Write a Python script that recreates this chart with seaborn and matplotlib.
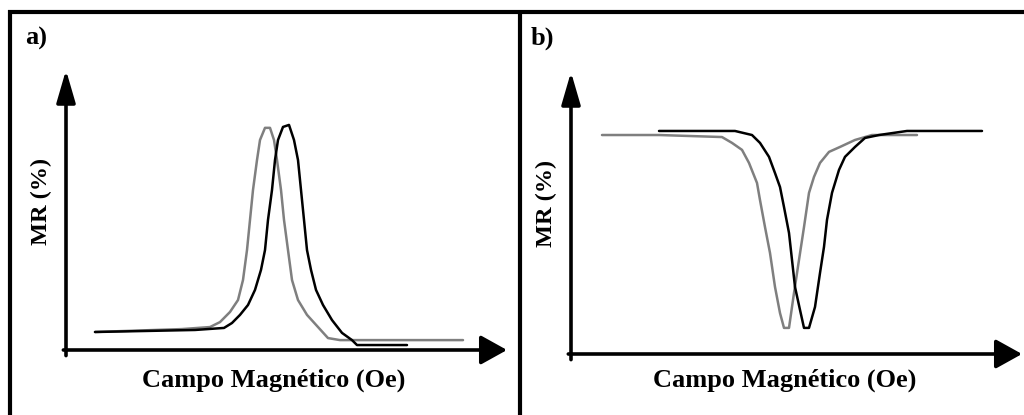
import matplotlib
matplotlib.use("Agg")
import matplotlib.pyplot as plt
from matplotlib.lines import Line2D
import seaborn as sns
import pandas as pd

# ---------------- data (arbitrary units) ----------------
# panel a: two MR peaks (curve sweeping one way and back)
a_left_H = [-91, -47.5, -33.5, -28.5, -23.5, -19.5, -17, -15, -13.5, -12, -10, -8.5,
            -6, -3.5, -1.5, 0, 2, 3.5, 5.5, 7.5, 10.5, 15, 20.5, 25.5, 31.5, 56.5, 93]
a_left_MR = [8.0, 9.3, 10.2, 12.4, 16.9, 22.2, 31.1, 44.4, 57.8, 71.1, 84.4, 93.3,
             98.7, 98.7, 93.3, 84.4, 71.1, 57.8, 44.4, 31.1, 22.2, 15.6, 10.2, 5.3, 4.4, 4.4, 4.4]
a_right_H = [-91, -41, -26.5, -22.5, -18.5, -14.5, -11, -8, -6, -4.5, -2.5, -1, 0.5, 3,
             6, 8.5, 10.5, 12, 13.5, 15, 17, 19.5, 23, 27.5, 32.5, 37.5, 40, 65]
a_right_MR = [8.0, 8.9, 9.8, 12.0, 15.6, 20.0, 26.7, 35.6, 44.4, 57.8, 71.1, 84.4, 93.3, 99.1,
              100, 93.3, 84.4, 71.1, 57.8, 44.4, 35.6, 26.7, 20.0, 13.3, 7.6, 4.4, 2.2, 2.2]

# panel b: two MR dips
b_left_H = [-97, -68.5, -37, -32, -27, -23.5, -19.5, -18, -15.5, -13, -10.5, -8, -6, -3.5,
            -1, 1.5, 4, 6.5, 9, 12, 16.5, 22, 29.5, 38, 60.5]
b_left_MR = [97.3, 97.3, 96.4, 93.8, 90.7, 84.9, 76.0, 68.4, 56.4, 44.9, 29.8, 18.2, 11.6, 11.6,
             27.1, 41.8, 56.4, 71.6, 78.7, 84.9, 89.8, 92.0, 95.1, 97.3, 97.3]
b_right_H = [-68.5, -30.5, -22, -18, -13.5, -10.5, -8, -6, -3.5, -2, -0.5, 2, 4, 6.5, 9.5,
             12, 14, 15.5, 18, 21.5, 24.5, 29.5, 34.5, 41.5, 55.5, 93]
b_right_MR = [99.1, 99.1, 97.3, 93.8, 87.6, 80.4, 74.2, 65.3, 53.8, 41.8, 29.8, 19.6, 11.6, 11.6,
              20.9, 36.0, 47.6, 59.6, 71.6, 81.8, 87.6, 92.0, 96.0, 97.3, 99.1, 99.1]

panel_labels = ["a)", "b)"]
x_label = "Campo Magnético (Oe)"
y_label = "MR (%)"

# ---------------- style ----------------
sns.set_style("white")
plt.rcParams["font.family"] = ["Liberation Serif", "DejaVu Serif"]

W, H = 1024, 415
fig = plt.figure(figsize=(W / 100, H / 100), dpi=100)

def fx(px):
    return px / W

def fy(py):
    return 1 - py / H

GRAY = "#7f7f7f"
BLACK = "#000000"

def make_axes(x0, y0, x1, y1, xlim, ylim):
    ax = fig.add_axes([fx(x0), fy(y0), fx(x1) - fx(x0), fy(y1) - fy(y0)])
    ax.set_xlim(*xlim)
    ax.set_ylim(*ylim)
    for s in ax.spines.values():
        s.set_visible(False)
    ax.set_xticks([])
    ax.set_yticks([])
    ax.patch.set_alpha(0)
    xarrow = dict(arrowstyle="-|>,head_length=0.45,head_width=0.25", lw=2.6,
                  color="black", mutation_scale=36, shrinkA=0, shrinkB=0)
    yarrow = dict(arrowstyle="-|>,head_length=0.55,head_width=0.16", lw=2.6,
                  color="black", mutation_scale=36, shrinkA=0, shrinkB=0)
    ax.annotate("", xy=(1, 0), xytext=(-0.006, 0), xycoords="axes fraction",
                textcoords="axes fraction", arrowprops=xarrow, annotation_clip=False)
    ax.annotate("", xy=(0, 1), xytext=(0, -0.02), xycoords="axes fraction",
                textcoords="axes fraction", arrowprops=yarrow, annotation_clip=False)
    return ax

def draw(ax, hs, mrs, color):
    df = pd.DataFrame({"H": hs, "MR": mrs})
    sns.lineplot(data=df, x="H", y="MR", ax=ax, color=color, lw=1.8, sort=False,
                 estimator=None, clip_on=False)
    ax.set_xlabel("")
    ax.set_ylabel("")

# panel a
axa = make_axes(66, 350, 507, 70, (-105.5, 115), (0, 124.4))
draw(axa, a_left_H, a_left_MR, GRAY)
draw(axa, a_right_H, a_right_MR, BLACK)

# panel b
axb = make_axes(571, 354, 1022, 72, (-112.5, 113), (0, 125.3))
draw(axb, b_left_H, b_left_MR, GRAY)
draw(axb, b_right_H, b_right_MR, BLACK)

# ---------------- frames ----------------
frame_lw = 3.0
fig.add_artist(Line2D([fx(8), fx(1024)], [fy(12), fy(12)], color="black", lw=frame_lw,
                      solid_capstyle="butt"))
fig.add_artist(Line2D([fx(9.5), fx(9.5)], [fy(10.5), fy(415)], color="black", lw=frame_lw,
                      solid_capstyle="butt"))
fig.add_artist(Line2D([fx(520), fx(520)], [fy(10.5), fy(415)], color="black", lw=frame_lw,
                      solid_capstyle="butt"))

# ---------------- texts ----------------
tkw = dict(fontweight="bold", color="black")
fig.text(fx(25), fy(45), panel_labels[0], fontsize=19, ha="left", va="baseline", **tkw)
fig.text(fx(531), fy(45), panel_labels[1], fontsize=19, ha="left", va="baseline", **tkw)

fig.text(fx(274), fy(387), x_label, fontsize=19, ha="center", va="baseline", **tkw)
fig.text(fx(785), fy(387), x_label, fontsize=19, ha="center", va="baseline", **tkw)

fig.text(fx(41), fy(201), y_label, fontsize=17.5, rotation=90, ha="center", va="center", **tkw)
fig.text(fx(546), fy(203), y_label, fontsize=17.5, rotation=90, ha="center", va="center", **tkw)

fig.savefig("out.png", dpi=100)
